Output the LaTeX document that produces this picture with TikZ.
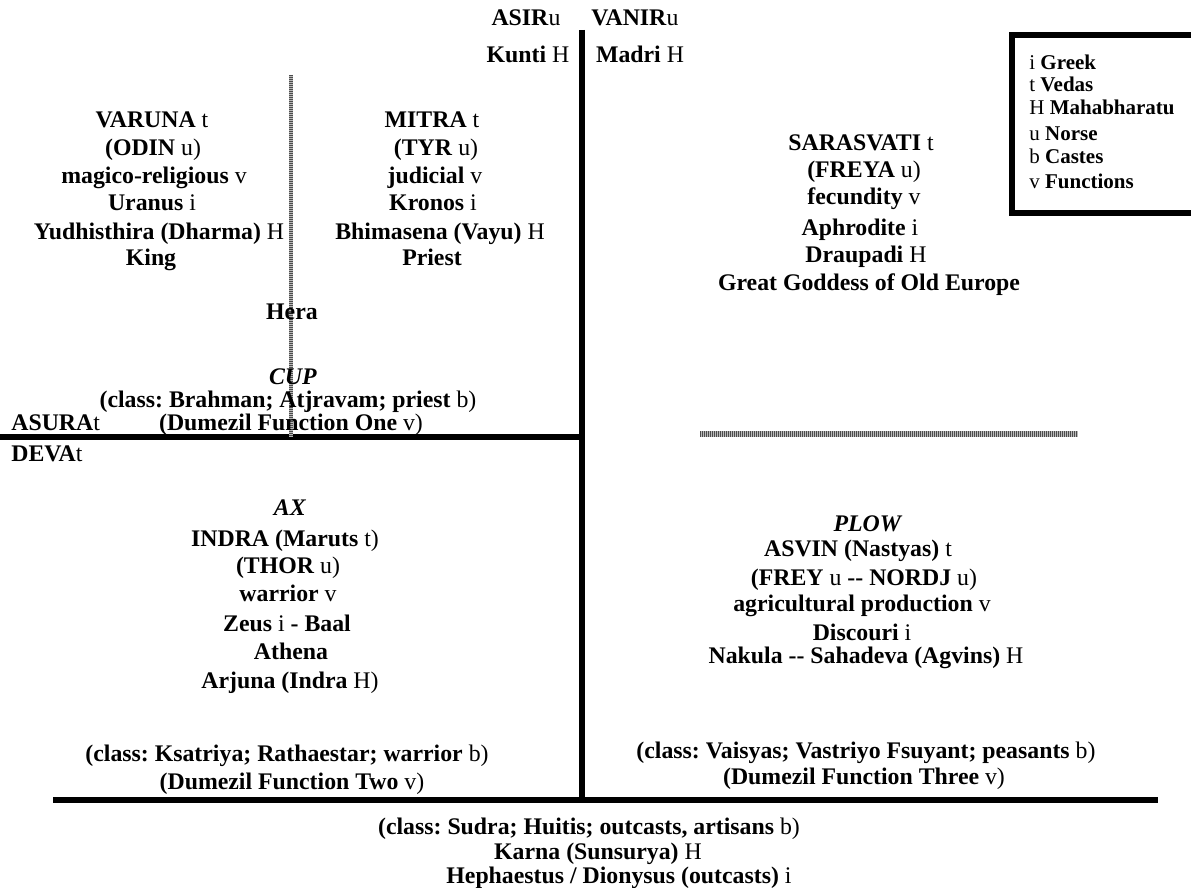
\documentclass[tikz,border=0pt]{standalone}
\usepackage{fontspec}
\setmainfont{Liberation Serif}
\usetikzlibrary{positioning}
\frenchspacing

\tikzset{
  txt/.style={anchor=base, inner sep=0pt, font=\fontsize{11.9}{13.8}\selectfont},
  ltxt/.style={txt, anchor=base west},
  legtxt/.style={ltxt, font=\fontsize{10.5}{12}\selectfont},
  bar/.style={line width=2.7pt},
  hatch/.style={gray!55},
  hatchdash/.style={black!70, dash pattern=on 0.5pt off 0.5pt},
}

\begin{document}
\begin{tikzpicture}[x=0.5pt,y=-0.5pt]
\useasboundingbox (0,0) rectangle (1191,888);

% --- Axes ---
\coordinate (top) at (582,30);
\coordinate (foot) at (582,800);
\coordinate (lw) at (0,437);
\coordinate (lm) at (582,437);
\coordinate (bw) at (53,800);
\coordinate (be) at (1158,800);
\draw[bar] (top) -- (foot);
\draw[bar] (lw) -- (lm);
\draw[line width=3pt] (bw) -- (be);

% --- Hatched dividers ---
\coordinate (vt) at (291,75);
\coordinate (vb) at (291,437);
\coordinate (hl) at (700,434);
\coordinate (hr) at (1078,434);
\draw[hatch, line width=2pt] (vt) -- (vb);
\draw[hatchdash, line width=2pt] (vt) -- (vb);
\draw[hatch, line width=2.6pt] (hl) -- (hr);
\draw[hatchdash, line width=2.6pt] (hl) -- (hr);

% --- Heads ---
\node[txt] (asir)  at (526,26) {\textbf{ASIR}u};
\node[txt] (vanir) at (635,26) {\textbf{VANIR}u};
\node[txt] (kunti) at (528,63) {\textbf{Kunti} H};
\node[txt] (madri) at (640,63) {\textbf{Madri} H};

% --- Legend ---
\draw[line width=3pt] (1012,35) rectangle (1198,213);
\node[legtxt] (leg1) at (1029,70)  {i \textbf{Greek}};
\node[legtxt] (leg2) at (1029,92)  {t \textbf{Vedas}};
\node[legtxt] (leg3) at (1029,115) {H \textbf{Mahabharatu}};
\node[legtxt] (leg4) at (1029,141) {u \textbf{Norse}};
\node[legtxt] (leg5) at (1029,164) {b \textbf{Castes}};
\node[legtxt] (leg6) at (1029,189) {v \textbf{Functions}};

% --- Varuna ---
\node[txt] (var1) at (152,128) {\textbf{VARUNA} t};
\node[txt] (var2) at (153,156) {\textbf{(ODIN} u)};
\node[txt] (var3) at (154,184) {\textbf{magico-religious} v};
\node[txt] (var4) at (152,211) {\textbf{Uranus} i};
\node[txt] (var5) at (159,240) {\textbf{Yudhisthira (Dharma)} H};
\node[txt] (var6) at (151,266) {\textbf{King}};

% --- Mitra ---
\node[txt] (mit1) at (432,128) {\textbf{MITRA} t};
\node[txt] (mit2) at (436,156) {\textbf{(TYR} u)};
\node[txt] (mit3) at (435,184) {\textbf{judicial} v};
\node[txt] (mit4) at (433,211) {\textbf{Kronos} i};
\node[txt] (mit5) at (440,240) {\textbf{Bhimasena (Vayu)} H};
\node[txt] (mit6) at (432,266) {\textbf{Priest}};

% --- Sarasvati ---
\node[txt] (sar1) at (861,151) {\textbf{SARASVATI} t};
\node[txt] (sar2) at (864,178) {\textbf{(FREYA} u)};
\node[txt] (sar3) at (864,205) {\textbf{fecundity} v};
\node[txt] (sar4) at (860,235) {\textbf{Aphrodite} i};
\node[txt] (sar5) at (866,263) {\textbf{Draupadi} H};
\node[txt] (sar6) at (869,291) {\textbf{Great Goddess of Old Europe}};

% --- Cup ---
\node[txt] (hera)  at (292,320) {\textbf{Hera}};
\node[txt] (cup)   at (293,385) {\textbf{\itshape CUP}};
\node[txt] (brah)  at (288,408) {\textbf{(class: Brahman; Atjravam; priest} b)};
\node[txt] (fone)  at (291,430) {\textbf{(Dumezil Function One} v)};
\node[ltxt] (asura) at (11,430) {\textbf{ASURA}t};
\node[ltxt] (deva)  at (11,461) {\textbf{DEVA}t};

% --- Ax ---
\node[txt] (ax1) at (290,516) {\textbf{\itshape AX}};
\node[txt] (ax2) at (285,546) {\textbf{INDRA (Maruts} t)};
\node[txt] (ax3) at (288,574) {\textbf{(THOR} u)};
\node[txt] (ax4) at (288,601) {\textbf{warrior} v};
\node[txt] (ax5) at (287,631) {\textbf{Zeus} i \textbf{- Baal}};
\node[txt] (ax6) at (291,659) {\textbf{Athena}};
\node[txt] (ax7) at (290,688) {\textbf{Arjuna (Indra} H)};
\node[txt] (ksat) at (287,761) {\textbf{(class: Ksatriya; Rathaestar; warrior} b)};
\node[txt] (ftwo) at (292,789) {\textbf{(Dumezil Function Two} v)};

% --- Plow ---
\node[txt] (pl1) at (868,531) {\textbf{\itshape PLOW}};
\node[txt] (pl2) at (858,556) {\textbf{ASVIN (Nastyas)} t};
\node[txt] (pl3) at (864,585) {\textbf{(FREY} u \textbf{-{}- NORDJ} u)};
\node[txt] (pl4) at (862,611) {\textbf{agricultural production} v};
\node[txt] (pl5) at (862,640) {\textbf{Discouri} i};
\node[txt] (pl6) at (866,663) {\textbf{Nakula -{}- Sahadeva (Agvins)} H};
\node[txt] (vais)   at (866,758) {\textbf{(class: Vaisyas; Vastriyo Fsuyant; peasants} b)};
\node[txt] (fthree) at (864,784) {\textbf{(Dumezil Function Three} v)};

% --- Below ---
\node[txt] (sudra) at (589,834) {\textbf{(class: Sudra; Huitis; outcasts, artisans} b)};
\node[txt] (karna) at (598,859) {\textbf{Karna (Sunsurya)} H};
\node[txt] (heph)  at (619,883) {\textbf{Hephaestus / Dionysus (outcasts)} i};

\end{tikzpicture}
\end{document}
